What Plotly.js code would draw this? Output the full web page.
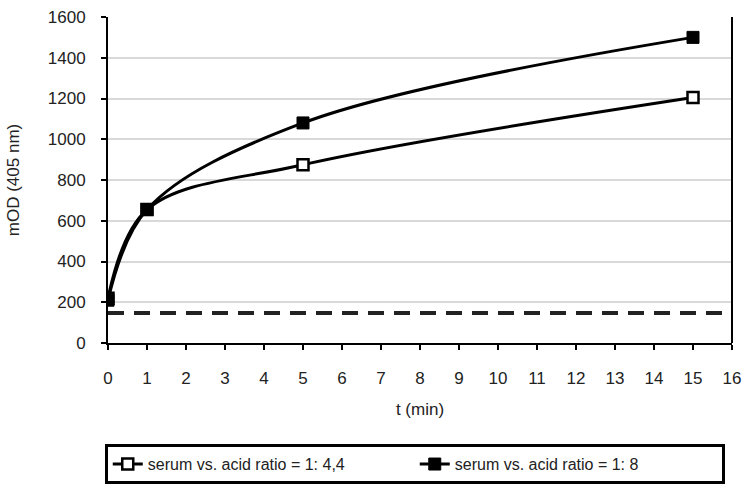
<!DOCTYPE html>
<html><head><meta charset="utf-8">
<script src="https://cdn.plot.ly/plotly-3.0.1.min.js"></script>
<style>html,body{margin:0;padding:0;background:#fff}</style>
</head><body><div id="chart" style="width:743px;height:487px"></div>
<script>
const times = [0, 1, 5, 15];
const ratio44 = [220, 655, 875, 1205];
const ratio8 = [210, 655, 1080, 1500];
const cutoffX = [0, 16];
const cutoffY = [147, 147];
const names = ["serum vs. acid ratio = 1: 4,4", "serum vs. acid ratio = 1: 8"];

const traces = [
  {x: times, y: ratio44, name: names[0], mode: "lines+markers",
   line: {color: "#000", width: 3, shape: "spline", smoothing: 1},
   marker: {symbol: "square", size: 11, color: "#fff", line: {color: "#000", width: 2.5}}},
  {x: times, y: ratio8, name: names[1], mode: "lines+markers",
   line: {color: "#000", width: 3, shape: "spline", smoothing: 1},
   marker: {symbol: "square", size: 12, color: "#000", line: {color: "#000", width: 1}}},
  {x: cutoffX, y: cutoffY, mode: "lines", showlegend: false, hoverinfo: "skip",
   line: {color: "#222", width: 4, dash: "16px,10px"}}
];
const layout = {
  width: 743, height: 487,
  margin: {l: 108, r: 11, t: 17, b: 144, autoexpand: false},
  paper_bgcolor: "#fff", plot_bgcolor: "#fff",
  font: {family: "Liberation Sans, Arial, sans-serif", size: 17, color: "#222"},
  showlegend: true,
  xaxis: {range: [0, 16], dtick: 1, tick0: 0, showgrid: false, zeroline: false, automargin: false,
    showline: true, linecolor: "#000", linewidth: 2, mirror: false,
    ticks: "outside", ticklen: 5, tickwidth: 2, tickcolor: "#000", ticklabelstandoff: 14,
    title: {text: "t (min)", font: {size: 17}, standoff: 16}},
  yaxis: {range: [0, 1600], dtick: 200, showgrid: true, gridcolor: "#d9d9d9", gridwidth: 2,
    zeroline: false, automargin: false, showline: true, linecolor: "#000", linewidth: 2,
    ticks: "outside", ticklen: 5, tickwidth: 2, tickcolor: "#000", ticklabelstandoff: 12,
    title: {text: "mOD (405 nm)", font: {size: 17}, standoff: 24}},
  shapes: [{type: "line", xref: "paper", yref: "paper", x0: 1, x1: 1, y0: 0, y1: 1,
    line: {color: "#000", width: 2}}],
  legend: {orientation: "h", xref: "container", yref: "container", x: 0.141, xanchor: "left",
    y: 0.088, yanchor: "top", entrywidth: 262,
    bordercolor: "#000", borderwidth: 3, bgcolor: "#fff",
    font: {size: 16}}
};
Plotly.newPlot("chart", traces, layout, {displayModeBar: false});
</script></body></html>
